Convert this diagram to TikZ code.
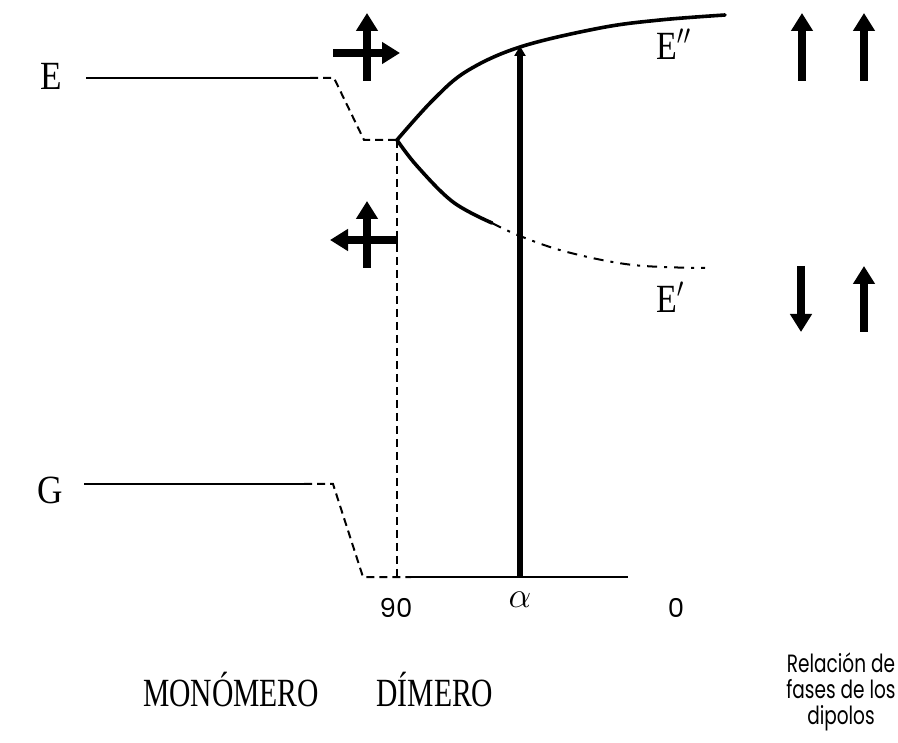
\documentclass[tikz,border=0pt]{standalone}
\usepackage{fix-cm}
\usepackage{fontspec}
\setmainfont{Liberation Serif}
\newfontfamily\gsans{Poppins}
\usetikzlibrary{arrows.meta}
\tikzset{
  lvl/.style={line width=2pt},
  dsh/.style={line width=2pt, dash pattern=on 8pt off 5pt},
  curve/.style={line width=3.6pt, line cap=round},
  dashdot/.style={line width=2pt, dash pattern=on 10pt off 7pt on 3pt off 7pt},
  fat/.style={line width=8pt, -{Triangle[width=21pt,length=18pt]}},
  lbl/.style={inner sep=0pt, font=\fontsize{40}{42}\selectfont},
  slbl/.style={inner sep=0pt, font=\gsans\fontsize{26}{28}\selectfont},
}
\begin{document}
\begin{tikzpicture}[x=1pt,y=-1pt]
\useasboundingbox (0,0) rectangle (898,743);
% coordinates
\coordinate (e0) at (86,78);
\coordinate (e1) at (310,78);
\coordinate (e2) at (334,78);
\coordinate (e3) at (364,140);
\coordinate (sp) at (397,140);
\coordinate (g0) at (84,484);
\coordinate (g1) at (304,484);
\coordinate (g2) at (333,484);
\coordinate (g3) at (363,577);
\coordinate (b0) at (397,577);
\coordinate (b1) at (411,577);
\coordinate (b2) at (628,577);
\coordinate (ab) at (520,577);
\coordinate (at) at (520,46);
% level labels
\node[lbl] (E) at (51,76) {\scalebox{0.88}[1]{E}};
\node[lbl] (G) at (50,490) {\scalebox{0.88}[1]{G}};
\node[lbl, anchor=west] (Epp) at (656,44) {\scalebox{0.85}[1]{E$''$}};
\node[lbl, anchor=west] (Ep) at (656,297) {\scalebox{0.85}[1]{E$'$}};
% E level
\draw[lvl] (e0) -- (e1);
\draw[dsh] (e1) -- (e2) -- (e3) -- (sp);
% G level
\draw[lvl] (g0) -- (g1);
\draw[dsh] (g1) -- (g2) -- (g3) -- (b1);
% vertical dashed
\draw[dsh] (sp) -- (b0);
% baseline
\draw[line width=2.6pt] (b1) -- (b2);
% upper curve
\draw[curve] plot[smooth, tension=0.6] coordinates {(397,140) (433,100) (467,71) (520,47) (600,28) (660,20) (725,15)};
% lower curve
\draw[curve] plot[smooth, tension=0.6] coordinates {(397,140) (417,166) (453,202) (492,223)};
\draw[dashdot] plot[smooth, tension=0.6] coordinates {(492,223) (520,236) (567,252) (633,265) (705,268)};
% main vertical arrow
\draw[line width=6pt, -{Triangle[width=11pt,length=10pt]}] (ab) -- (at);
% axis labels
\node[slbl] (l90) at (396,608) {90};
\node[inner sep=0pt, font=\fontsize{36}{40}\selectfont] (la) at (520,600) {$\alpha$};
\node[slbl] (l0) at (676,608) {0};
% upper cross
\coordinate (u1) at (367,81);
\coordinate (u2) at (367,13);
\coordinate (u3) at (333,53);
\coordinate (u4) at (400,53);
\draw[fat] (u1) -- (u2);
\draw[fat] (u3) -- (u4);
% lower cross
\coordinate (d1) at (367,268);
\coordinate (d2) at (367,201);
\coordinate (d3) at (397,240);
\coordinate (d4) at (330,240);
\coordinate (d5) at (397,231);
\coordinate (d6) at (397,249);
\draw[fat] (d1) -- (d2);
\draw[fat] (d3) -- (d4);
\draw[line width=2.4pt] (d5) -- (d6);
% right dipoles
\coordinate (r1a) at (802,81);
\coordinate (r1b) at (802,13);
\coordinate (r2a) at (864,81);
\coordinate (r2b) at (864,13);
\coordinate (r3a) at (801,266);
\coordinate (r3b) at (801,332);
\coordinate (r4a) at (864,332);
\coordinate (r4b) at (864,266);
\draw[fat] (r1a) -- (r1b);
\draw[fat] (r2a) -- (r2b);
\draw[fat] (r3a) -- (r3b);
\draw[fat] (r4a) -- (r4b);
% bottom labels
\node[lbl] (mono) at (231,690) {\scalebox{0.74}[1]{MONÓMERO}};
\node[lbl] (dime) at (435,690) {\scalebox{0.74}[1]{DÍMERO}};
\node[align=center, inner sep=0pt, font=\gsans\fontsize{25}{26}\selectfont] (rel) at (841,692) {\scalebox{0.74}[1]{Relación de}\\\scalebox{0.74}[1]{fases de los}\\\scalebox{0.74}[1]{dipolos}};
\end{tikzpicture}
\end{document}
